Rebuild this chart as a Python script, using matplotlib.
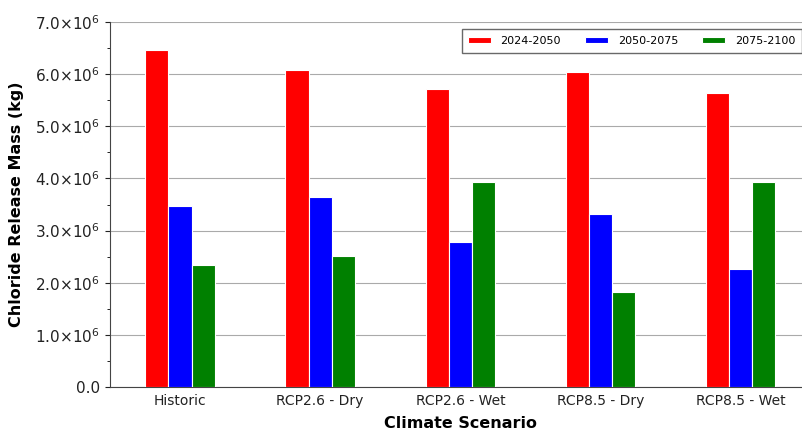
import numpy as np
import matplotlib
matplotlib.use('Agg')
import matplotlib.pyplot as plt
from matplotlib.ticker import FuncFormatter, MultipleLocator

scenarios = ['Historic', 'RCP2.6 - Dry', 'RCP2.6 - Wet', 'RCP8.5 - Dry', 'RCP8.5 - Wet']
periods = ['2024-2050', '2050-2075', '2075-2100']
p2024 = [6.46e6, 6.08e6, 5.72e6, 6.04e6, 5.64e6]
p2050 = [3.48e6, 3.64e6, 2.78e6, 3.32e6, 2.26e6]
p2075 = [2.34e6, 2.52e6, 3.94e6, 1.83e6, 3.94e6]
colors = ['#ff0000', '#0000ff', '#008000']

fig = plt.figure(figsize=(8.02, 4.32), dpi=100)
ax = fig.add_axes([0.137, 0.104, 0.874, 0.845])

x = np.arange(len(scenarios))
w = 0.165
for i, (vals, lab, c) in enumerate(zip([p2024, p2050, p2075], periods, colors)):
    ax.bar(x + (i - 1) * w, vals, width=w, color=c, label=lab,
           edgecolor='white', linewidth=0.8, zorder=3)

ax.set_xlim(-0.5, 4.5)
ax.set_ylim(0, 7e6)
ax.yaxis.set_major_locator(MultipleLocator(1e6))
ax.yaxis.set_minor_locator(MultipleLocator(0.5e6))

def fmt(v, pos):
    if v == 0:
        return '0.0'
    return r'%.1f$\times$10$^{6}$' % (v / 1e6)

ax.yaxis.set_major_formatter(FuncFormatter(fmt))
ax.set_xticks(x)
ax.set_xticklabels(scenarios)
ax.tick_params(axis='y', labelsize=11, colors='#222222')
ax.tick_params(axis='x', labelsize=10, colors='#222222', length=0, pad=5)
ax.yaxis.grid(True, color='#aaaaaa', linewidth=0.8, zorder=0)

for s in ['top', 'right']:
    ax.spines[s].set_visible(False)
for s in ['left', 'bottom']:
    ax.spines[s].set_color('#444444')

ax.set_xlabel('Climate Scenario', fontsize=11.5, fontweight='bold', labelpad=6)
ax.set_ylabel('Chloride Release Mass (kg)', fontsize=11.5, fontweight='bold', labelpad=8)

leg = ax.legend(loc='upper right', ncol=3, fontsize=8, frameon=True,
                fancybox=False, edgecolor='#444444', handlelength=2.0,
                handleheight=0.5, handletextpad=0.9, columnspacing=2.2,
                borderpad=0.6, bbox_to_anchor=(0.995, 0.995))

fig.savefig('out.png', dpi=100)
